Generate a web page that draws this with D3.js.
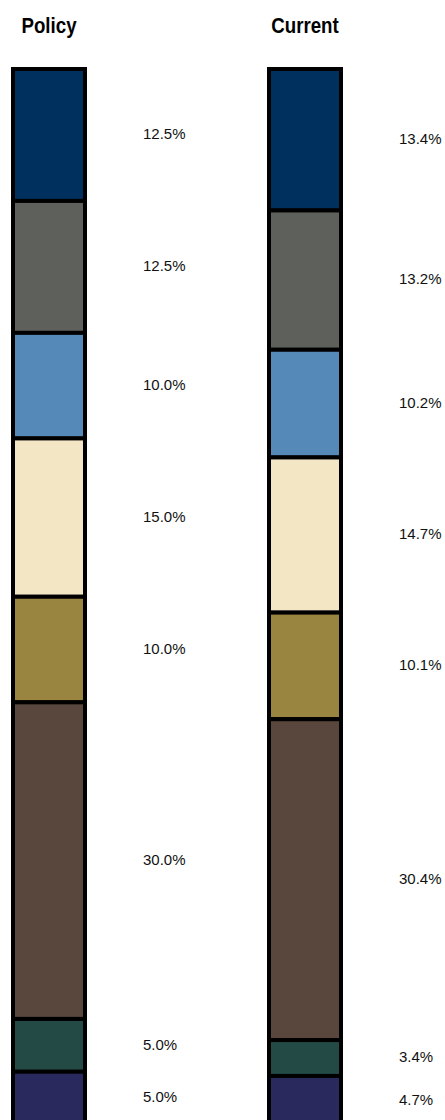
<!DOCTYPE html>
<html>
<head>
<meta charset="utf-8">
<script src="https://cdnjs.cloudflare.com/ajax/libs/d3/7.8.5/d3.min.js"></script>
<style>
    body { margin: 0; background: #fff; }
    .title { font-family: "Liberation Sans", Arial, sans-serif; font-weight: bold; font-size: 22px; fill: #000; }
    .pct { font-family: "Liberation Sans", Arial, sans-serif; font-size: 15px; fill: #111; }
    rect.segment { stroke: #000; stroke-width: 4; }
</style>
</head>
<body>
<svg id="chart" width="445" height="1120"></svg>
<script>
// asset classes, bottom of the stack is the last one
var categories = ["Cat 1", "Cat 2", "Cat 3", "Cat 4", "Cat 5", "Cat 6", "Cat 7", "Cat 8"];
var colors = ["#00305e", "#5e615b", "#5589b8", "#f3e6c5", "#9a8540", "#59463c", "#244a46", "#2a295e"];
var series = ["Policy", "Current"];
var policyValues = [12.5, 12.5, 10.0, 15.0, 10.0, 30.0, 5.0, 5.0];
var currentValues = [13.4, 13.2, 10.2, 14.7, 10.1, 30.4, 3.4, 4.7];

function StackedColumns(svgSelector) {
    "use strict";

    var that = this;
    that.svg = d3.select(svgSelector);
    that.barWidth = 72;
    that.labelGap = 56; // from bar right edge to label start

    // x position of each bar's left edge
    that.x = d3.scaleOrdinal()
        .domain(series)
        .range([13, 269]);

    // percent -> pixel, the chart runs off the bottom of the page
    that.y = d3.scaleLinear()
        .domain([0, 100])
        .range([69, 1124.5]);

    function stackOf(values) {
        var acc = 0;
        return values.map(function (v, i) {
            var d = { cat: categories[i], value: v, y0: acc, y1: acc + v, color: colors[i] };
            acc += v;
            return d;
        });
    }

    this.create = function () {
        var data = [policyValues, currentValues];

        series.forEach(function (name, s) {
            var left = that.x(name),
                g = that.svg.append("g").attr("class", "col");

            // title over the bar, squeezed to look like a narrow face
            g.append("text")
                .attr("class", "title")
                .attr("transform", "translate(" + (left + that.barWidth / 2) + ",33) scale(0.85,1)")
                .attr("text-anchor", "middle")
                .text(name);

            var segs = stackOf(data[s]);

            g.selectAll("rect.segment")
                .data(segs)
                .join("rect")
                .attr("class", "segment")
                .attr("x", left)
                .attr("y", function (d) { return that.y(d.y0); })
                .attr("width", that.barWidth)
                .attr("height", function (d) { return that.y(d.y1) - that.y(d.y0); })
                .attr("fill", function (d) { return d.color; });

            g.selectAll("text.pct")
                .data(segs)
                .join("text")
                .attr("class", "pct")
                .attr("x", left + that.barWidth + 2 + that.labelGap)
                .attr("y", function (d) { return (that.y(d.y0) + that.y(d.y1)) / 2; })
                .attr("dy", "0.28em")
                .text(function (d) { return d.value.toFixed(1) + "%"; });
        });
    };

    this.create();
}

new StackedColumns("#chart");
</script>
</body>
</html>
